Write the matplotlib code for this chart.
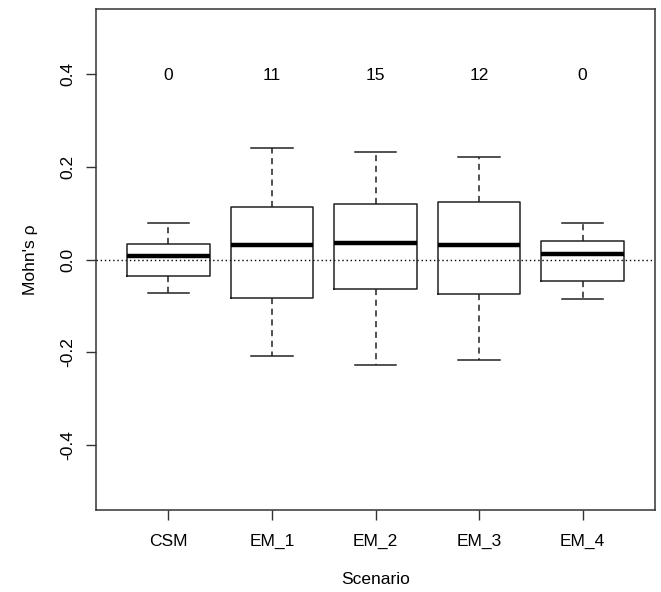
import matplotlib
matplotlib.use("Agg")
import matplotlib.pyplot as plt

plt.rcParams['font.family'] = ['Liberation Sans', 'DejaVu Sans']

scenarios = ['CSM', 'EM_1', 'EM_2', 'EM_3', 'EM_4']
whisker_lo = [-0.073, -0.207, -0.227, -0.216, -0.085]
q1 = [-0.035, -0.082, -0.064, -0.074, -0.046]
median = [0.007, 0.031, 0.035, 0.031, 0.012]
q3 = [0.033, 0.114, 0.119, 0.124, 0.040]
whisker_hi = [0.078, 0.241, 0.231, 0.220, 0.078]
counts = [0, 11, 15, 12, 0]

stats = []
for i, name in enumerate(scenarios):
    stats.append({'label': name, 'whislo': whisker_lo[i], 'q1': q1[i],
                  'med': median[i], 'q3': q3[i], 'whishi': whisker_hi[i],
                  'fliers': []})

fig = plt.figure(figsize=(6.61, 5.92), dpi=100)
ax = fig.add_axes([96 / 661, 1 - 510 / 592, 559 / 661, 501 / 592])

ax.axhline(0, color='black', lw=1.0, ls=(0, (1, 2)), zorder=1)

line = dict(color='#222222', lw=1.1)
ax.bxp(stats, positions=range(1, 6), widths=0.8, showfliers=False,
       boxprops=line,
       whiskerprops=dict(color='#222222', lw=1.1, ls=(0, (4, 3))),
       capprops=line, capwidths=0.4,
       medianprops=dict(color='black', lw=3.2, solid_capstyle='butt'))

for i, n in enumerate(counts):
    ax.text(i + 1, 0.4, str(n), ha='center', va='center_baseline', fontsize=12.5)

ax.set_xlim(0.3, 5.7)
ax.set_ylim(-0.54, 0.54)
ax.set_yticks([-0.4, -0.2, 0.0, 0.2, 0.4])
ax.set_yticklabels(['-0.4', '-0.2', '0.0', '0.2', '0.4'], rotation=90, va='center')
ax.set_xticks(range(1, 6))
ax.set_xticklabels(scenarios)
ax.tick_params(axis='both', length=7, width=1.0, color='#333333', labelsize=12.5)
ax.tick_params(axis='x', pad=10)
ax.tick_params(axis='y', pad=8)
for s in ax.spines.values():
    s.set_visible(True)
    s.set_linewidth(1.1)
    s.set_color('#333333')

ax.set_xlabel('Scenario', fontsize=12.5, labelpad=17)
ax.set_ylabel("Mohn's ρ", fontsize=12.5, labelpad=16)

fig.savefig('out.png', dpi=100)
